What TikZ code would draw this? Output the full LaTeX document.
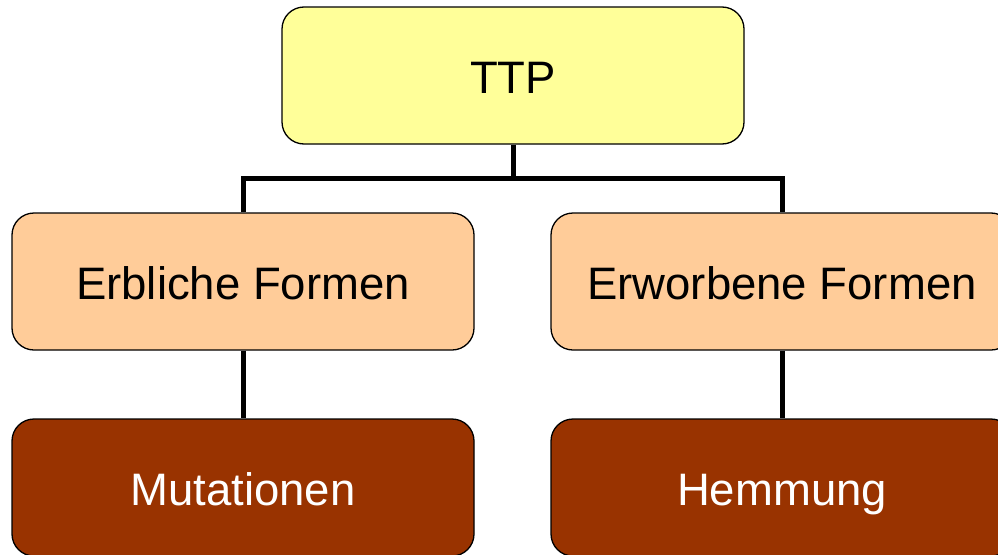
\documentclass[tikz,border=0pt]{standalone}
\usepackage{fontspec}
\setmainfont{Liberation Sans}
\definecolor{ttpyellow}{HTML}{FFFF99}
\definecolor{peach}{HTML}{FFCC99}
\definecolor{brown}{HTML}{993300}
\begin{document}
\begin{tikzpicture}[x=1pt,y=-1pt,
  box/.style={draw=black,line width=1.3pt,rounded corners=22pt,minimum width=462pt,minimum height=137pt,inner sep=0pt,text height=36pt,text depth=0pt,font=\fontsize{45.5}{50}\selectfont},
  conn/.style={line width=5pt}]
\clip (0,0) rectangle (998,554);
\fill[white] (0,0) rectangle (998,554);
\node[box,fill=ttpyellow] (ttp) at (513,75.5) {TTP};
\node[box,fill=peach] (erb) at (243,281.5) {Erbliche Formen};
\node[box,fill=peach] (erw) at (782,281.5) {Erworbene Formen};
\node[box,fill=brown,text=white] (mut) at (243,487.5) {Mutationen};
\node[box,fill=brown,text=white] (hem) at (782,487.5) {Hemmung};
\coordinate (j) at (513,178);
\draw[conn] (ttp.south) -- (j);
\draw[conn] (erb.north) |- (j) -| (erw.north);
\draw[conn] (erb.south) -- (mut.north);
\draw[conn] (erw.south) -- (hem.north);
\end{tikzpicture}
\end{document}
